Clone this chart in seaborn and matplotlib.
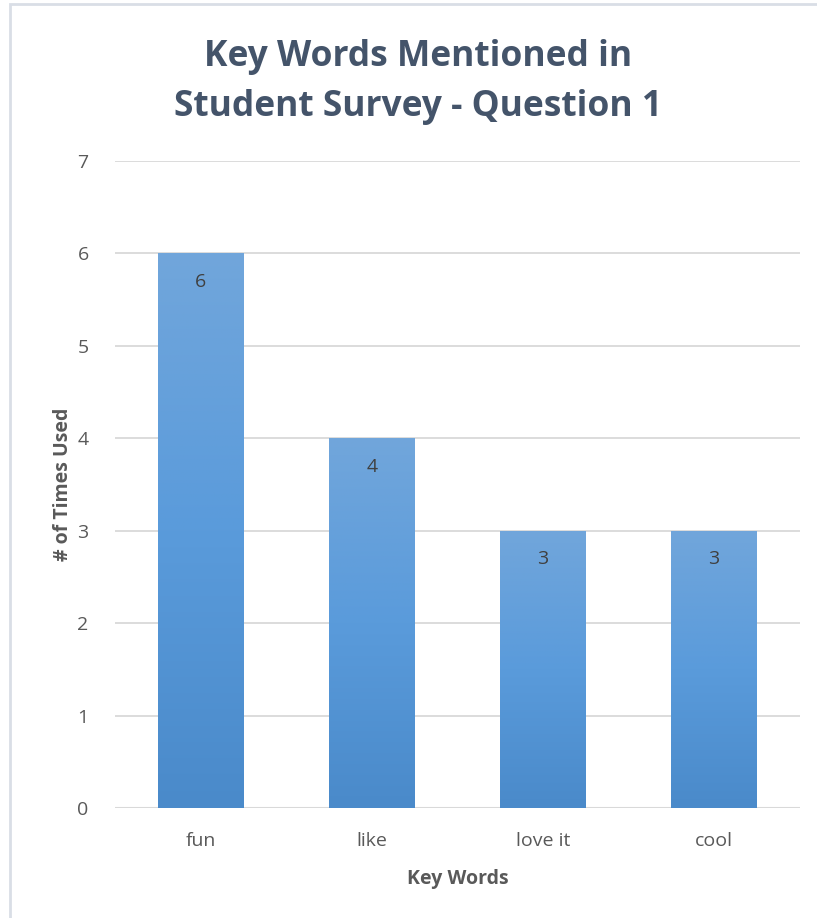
import numpy as np
import pandas as pd
import matplotlib
matplotlib.use("Agg")
import matplotlib.pyplot as plt
from matplotlib.colors import LinearSegmentedColormap
from matplotlib.patches import Rectangle
import seaborn as sns

categories = ["fun", "like", "love it", "cool"]
counts = [6, 4, 3, 3]
y_ticks = [0, 1, 2, 3, 4, 5, 6, 7]

title = "Key Words Mentioned in\nStudent Survey - Question 1"
x_label = "Key Words"
y_label = "# of Times Used"

sns.set_theme(style="white")
plt.rcParams["font.family"] = ["Open Sans", "DejaVu Sans"]

df = pd.DataFrame({"word": categories, "count": counts})

fig = plt.figure(figsize=(8.17, 9.18), dpi=100)
ax = fig.add_axes([0.1408, 0.1198, 0.838, 0.7048])

sns.barplot(data=df, x="word", y="count", color="#5B9BD5", width=0.5,
            ax=ax, zorder=3, linewidth=0)

# vertical gradient fill inside each bar
grad_cmap = LinearSegmentedColormap.from_list(
    "bar_grad", ["#4A8ACA", "#5A9BDB", "#71A6DB"])
grad = np.linspace(0, 1, 256).reshape(-1, 1)
for patch in ax.patches:
    x0, y0 = patch.get_x(), patch.get_y()
    w, h = patch.get_width(), patch.get_height()
    patch.set_facecolor("none")
    im = ax.imshow(grad, cmap=grad_cmap, origin="lower", aspect="auto",
                   extent=[x0, x0 + w, y0, y0 + h], zorder=3)
    im.set_clip_path(patch)
    ax.text(x0 + w / 2, y0 + h - 0.31, f"{h:g}", ha="center", va="center",
            fontsize=14, color="#404040", zorder=4)

ax.set_xlim(-0.5, len(categories) - 0.5)
ax.set_ylim(0, 7)
ax.set_yticks(y_ticks)
ax.set_yticklabels([str(t) for t in y_ticks])
ax.grid(axis="y", color="#D9D9D9", linewidth=1.3, zorder=0)
ax.grid(axis="x", visible=False)
for s in ax.spines.values():
    s.set_visible(False)
ax.axhline(0, color="#D9D9D9", linewidth=1.5, zorder=2)
ax.tick_params(axis="both", length=0, labelsize=14, colors="#595959")
ax.tick_params(axis="x", pad=17)
ax.tick_params(axis="y", pad=19)

ax.set_xlabel(x_label, fontsize=14, fontweight="bold", color="#595959", labelpad=14)
ax.set_ylabel(y_label, fontsize=14, fontweight="bold", color="#595959", labelpad=3)

fig.text(0.512, 0.9107, title, ha="center", va="center", fontsize=25.5,
         fontweight="bold", color="#44546A", linespacing=1.55)

# outer chart frame
fig.patches.append(Rectangle((10 / 817, -0.01), 1.0, 1 - 4.5 / 918 + 0.01,
                             transform=fig.transFigure, fill=False,
                             edgecolor="#D9DEE6", linewidth=2.0))

fig.savefig("out.png", dpi=100)
